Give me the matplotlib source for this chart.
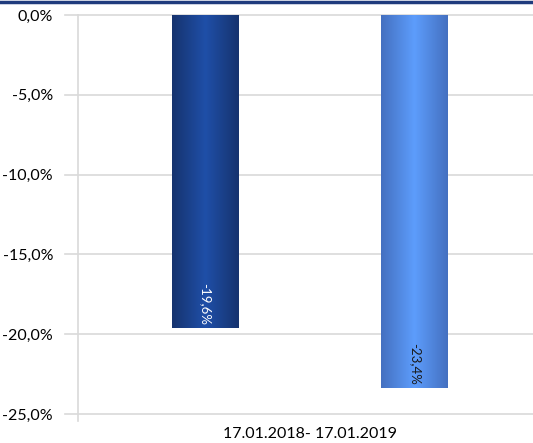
import numpy as np
import matplotlib.pyplot as plt
from matplotlib.colors import LinearSegmentedColormap

category = "17.01.2018- 17.01.2019"
values = [-19.6, -23.4]
labels = ["-19,6%", "-23,4%"]
yticks = [0, -5, -10, -15, -20, -25]

plt.rcParams["font.family"] = ["Lato", "DejaVu Sans"]

fig = plt.figure(figsize=(5.33, 4.43), dpi=100)
ax = fig.add_axes([78 / 533, 29 / 443, 464 / 533, 399 / 443])

# top band
fig.add_artist(plt.Line2D([0, 1], [1 - 1.5 / 443] * 2, color="#1f3b7d", lw=2.5,
                          transform=fig.transFigure))

offsets = [-0.226, 0.226]
width = 0.144
edge_cols = [("#16336e", "#1f4fa8"), ("#4470c0", "#5d9dfc")]
txt_cols = ["white", "#1a1a1a"]

for off, v, lab, (ce, cc), tc in zip(offsets, values, labels, edge_cols, txt_cols):
    cmap = LinearSegmentedColormap.from_list("g", [ce, cc, ce])
    grad = np.linspace(0, 1, 256).reshape(1, -1)
    ax.imshow(grad, cmap=cmap, aspect="auto",
              extent=[off - width / 2, off + width / 2, v, 0], zorder=2)
    ax.text(off, v + 0.2, lab, rotation=270, ha="center", va="bottom",
            color=tc, fontsize=9.5, zorder=3)

ax.set_xlim(-0.5, 0.5)
ax.set_ylim(-25, 0)
ax.set_yticks(yticks)
ax.set_yticklabels([f"{t:.1f}%".replace(".", ",") for t in yticks], fontsize=11.5)
ax.set_xticks([0])
ax.set_xticklabels([category], fontsize=11.5)
ax.tick_params(axis="x", length=0, pad=9)
ax.tick_params(axis="y", length=0, pad=18)

for t in yticks:
    ax.plot([-0.528, 0.5], [t, t], color="#d9d9d9", lw=1.2, zorder=1, clip_on=False)
ax.plot([-0.5, -0.5], [0, -25.45], color="#d9d9d9", lw=1.2, zorder=1, clip_on=False)

for s in ax.spines.values():
    s.set_visible(False)

fig.savefig("out.png", dpi=100)
